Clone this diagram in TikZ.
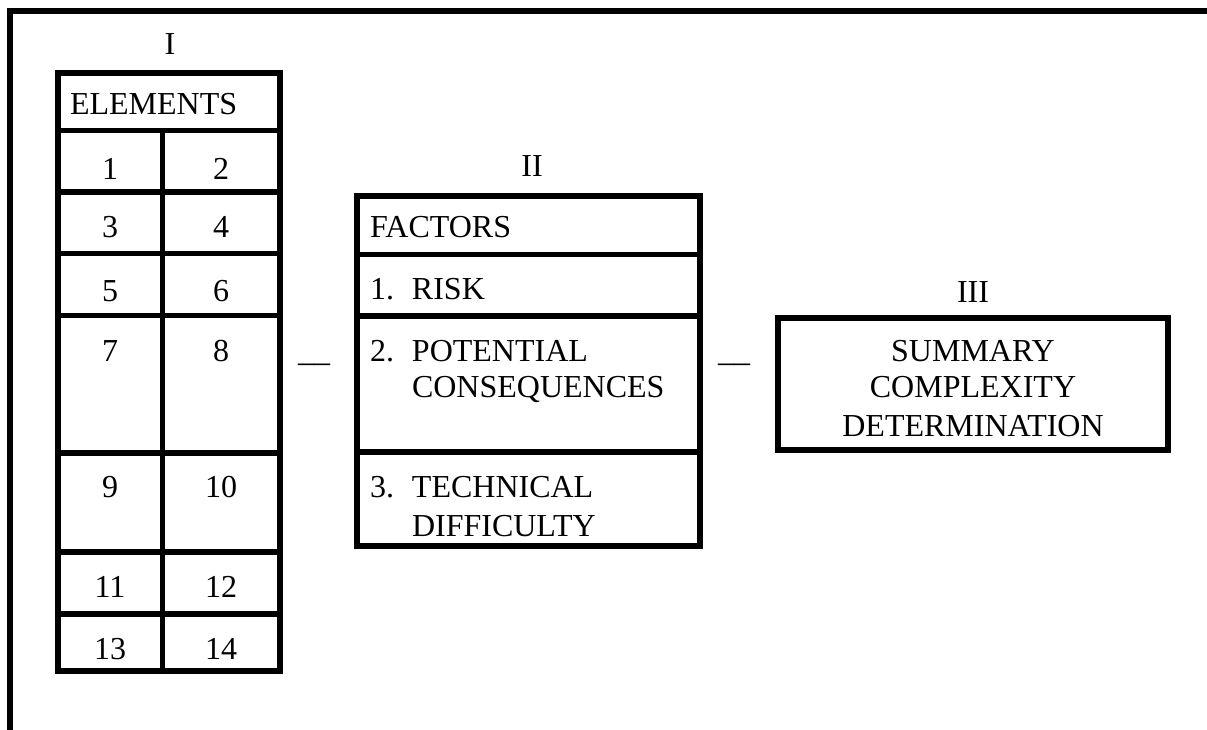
\documentclass[tikz,border=0pt]{standalone}
\usepackage{fontspec}
\setmainfont{Liberation Serif}
\begin{document}
\begin{tikzpicture}[x=0.75pt,y=-0.75pt,
  every node/.style={font=\fontsize{24}{28}\selectfont, inner sep=0pt, outer sep=0pt},
  lbl/.style={anchor=base},
  lft/.style={anchor=base west},
  heavy/.style={line width=4.5pt, line join=miter},
  rule/.style={line width=4pt}]
\useasboundingbox (0,0) rectangle (1207,730);
% page frame (top and left)
\draw[heavy] (10,735) -- (10,11) -- (1212,11);

% ---------- I : ELEMENTS ----------
\node[lbl] (rI) at (170,55) {I};
\foreach \y in {130.5,192,253.5,315.5,453,552,614}
  \draw[rule] (58,\y) -- (280,\y);
\draw[rule] (162.5,130.5) -- (162.5,671);
\draw[heavy] (58,73) rectangle (280,671);
\node[lft] (elem) at (70,115) {ELEMENTS};
\node[lbl] (e1) at (110,180) {1};
\node[lbl] (e2) at (221,180) {2};
\node[lbl] (e3) at (110,238) {3};
\node[lbl] (e4) at (221,238) {4};
\node[lbl] (e5) at (110,302) {5};
\node[lbl] (e6) at (221,302) {6};
\node[lbl] (e7) at (110,362) {7};
\node[lbl] (e8) at (221,362) {8};
\node[lbl] (e9) at (110,498) {9};
\node[lbl] (e10) at (221,498) {10};
\node[lbl] (e11) at (110,598) {11};
\node[lbl] (e12) at (221,598) {12};
\node[lbl] (e13) at (110,659) {13};
\node[lbl] (e14) at (221,659) {14};

\node[lft] (d1) at (298,362) {\_\_};

% ---------- II : FACTORS ----------
\node[lbl] (rII) at (532,177) {II};
\foreach \y in {254.5,316,452}
  \draw[rule] (357,\y) -- (700,\y);
\draw[heavy] (357,196) rectangle (700,546);
\node[lft] (fac) at (370,238) {FACTORS};
\node[lft] (f1) at (370,300) {\makebox[31.5pt][l]{1.}RISK};
\node[lft] (f2a) at (370,362) {\makebox[31.5pt][l]{2.}POTENTIAL};
\node[lft] (f2b) at (412,398) {CONSEQUENCES};
\node[lft] (f3a) at (370,498) {\makebox[31.5pt][l]{3.}TECHNICAL};
\node[lft] (f3b) at (412,537) {DIFFICULTY};

\node[lft] (d2) at (718,362) {\_\_};

% ---------- III : SUMMARY ----------
\node[lbl] (rIII) at (973,303) {III};
\draw[heavy] (778,318) rectangle (1168,450);
\node[lbl] (s1) at (973,362) {SUMMARY};
\node[lbl] (s2) at (973,398) {COMPLEXITY};
\node[lbl] (s3) at (973,437) {DETERMINATION};
\end{tikzpicture}
\end{document}
